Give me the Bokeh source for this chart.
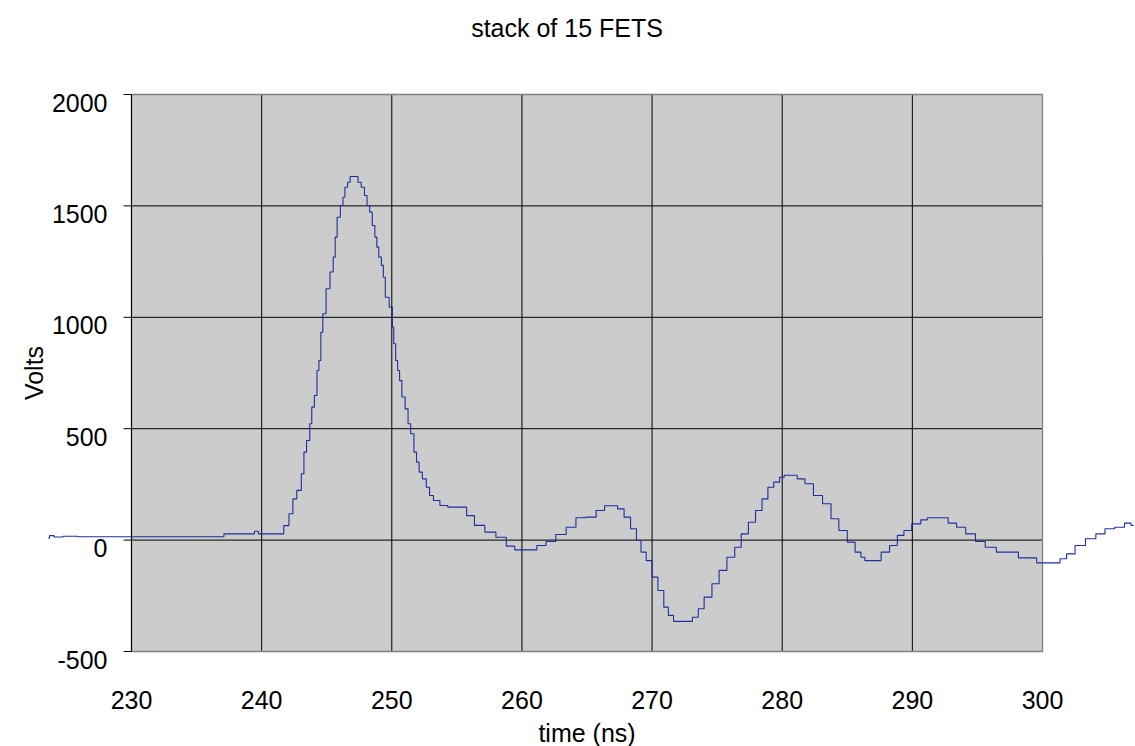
from math import pi
from bokeh.plotting import figure
from bokeh.models import Range1d
from bokeh.core.properties import value
from bokeh.embed import file_html
from bokeh.resources import INLINE

# ---- data -------------------------------------------------------------
title = "stack of 15 FETS"
x_label = "time (ns)"
y_label = "Volts"
x_ticks = [230, 240, 250, 260, 270, 280, 290, 300]
y_ticks = [-500, 0, 500, 1000, 1500, 2000]

time_ns = [223.6, 223.8, 224.3, 225.2, 226.5, 230.0, 234.0, 237.0, 237.2, 239.3,
           239.6, 239.9, 241.5, 241.9, 242.3, 242.5, 242.9, 243.2, 243.3, 243.6,
           243.8, 243.9, 244.2, 244.3, 244.5, 244.6, 244.8, 245.1, 245.4, 245.6,
           245.7, 245.9, 246.2, 246.3, 246.5, 246.7, 246.9, 247.3, 247.5, 247.8,
           248.0, 248.2, 248.4, 248.6, 248.8, 248.9, 249.1, 249.3, 249.4, 249.6,
           250.0, 250.1, 250.2, 250.4, 250.5, 250.7, 250.85, 251.2, 251.3, 251.6,
           251.8, 252.0, 252.2, 252.5, 252.8, 253.0, 253.4, 254.0, 254.6, 255.5,
           256.0, 256.7, 257.6, 258.4, 259.2, 259.7, 260.8, 261.5, 262.2, 263.0,
           263.8, 264.5, 265.3, 266.1, 266.6, 267.1, 267.6, 268.1, 268.6, 269.0,
           269.3, 269.8, 270.2, 270.7, 271.1, 271.4, 271.9, 272.8, 273.4, 273.7,
           274.3, 274.9, 275.4, 276.1, 276.6, 277.1, 277.7, 278.2, 278.7, 279.1,
           279.6, 280.0, 280.3, 280.9, 281.4, 282.1, 282.7, 283.5, 284.0, 284.7,
           285.3, 285.9, 286.2, 286.5, 287.3, 287.9, 288.6, 289.1, 289.6, 290.3,
           291.0, 291.3, 292.4, 293.1, 293.7, 294.5, 295.2, 296.0, 296.9, 298.0,
           298.3, 299.3, 299.8, 301.1, 301.6, 302.1, 302.9, 303.7, 304.5, 305.1,
           306.0, 306.6, 307.0]
volts = [8, 20, 14, 17, 15, 15, 15, 15, 28, 28,
         40, 28, 28, 65, 118, 185, 223, 298, 395, 447,
         522, 597, 649, 761, 806, 933, 1016, 1128, 1203, 1270,
         1360, 1449, 1502, 1539, 1584, 1606, 1632, 1632, 1606, 1584,
         1547, 1502, 1472, 1412, 1360, 1315, 1270, 1233, 1180, 1090,
         1045, 956, 881, 806, 761, 716, 642, 589, 522, 477,
         395, 350, 305, 275, 237, 200, 178, 155, 148, 148,
         110, 66, 36, 13, -27, -44, -44, -24, -6, 25,
         58, 100, 103, 133, 154, 154, 140, 103, 51, -2,
         -54, -92, -166, -226, -301, -338, -365, -365, -346, -308,
         -256, -196, -136, -77, -32, 28, 80, 133, 185, 237,
         260, 282, 291, 291, 275, 253, 200, 163, 96, 43,
         -9, -54, -77, -92, -92, -54, -24, 21, 43, 73,
         91, 100, 100, 76, 58, 28, -6, -32, -54, -54,
         -80, -80, -102, -102, -84, -62, -24, 6, 28, 51,
         58, 76, 66]

# ---- figure -----------------------------------------------------------
W, H = 1135, 746
x0, x1 = x_ticks[0], x_ticks[-1]
y0, y1 = y_ticks[0], y_ticks[-1]
px_x = 911.0 / (x1 - x0)       # px per ns
px_y = 557.0 / (y1 - y0)       # px per volt
left_px, top_px = 131.0, 94.0  # plot area origin inside canvas
xr = Range1d(x0 - left_px / px_x, x0 + (W - left_px) / px_x)
yr = Range1d(y1 - (H - top_px) / px_y, y1 + top_px / px_y)

p = figure(width=W, height=H, x_range=xr, y_range=yr,
           x_axis_type=None, y_axis_type=None,
           output_backend="svg", toolbar_location=None, min_border=0)
p.outline_line_color = None
p.background_fill_color = "white"
p.border_fill_color = "white"

FONT = value("Liberation Sans")
FS = value("25px")

# plot area
p.quad(left=x0, right=x1, bottom=y0, top=y1, fill_color="#CCCCCC", line_color=None)

# grid lines
inner_x = x_ticks[1:-1]
p.segment(x0=inner_x, y0=[y0] * len(inner_x), x1=inner_x, y1=[y1] * len(inner_x),
          line_color="black", line_width=1)
inner_y = y_ticks[1:-1]
p.segment(x0=[x0] * len(inner_y), y0=inner_y, x1=[x1] * len(inner_y), y1=inner_y,
          line_color="black", line_width=1)
# border (gray top/right/bottom)
p.line(x=[x0, x1, x1, x0], y=[y1, y1, y0, y0], line_color="#808080", line_width=1.3)
# y axis line and ticks
p.line(x=[x0, x0], y=[y0, y1], line_color="black", line_width=1.2)
tick_len = 8.0 / px_x
p.segment(x0=[x0 - tick_len] * len(y_ticks), y0=y_ticks, x1=[x0] * len(y_ticks), y1=y_ticks,
          line_color="black", line_width=1)

p.step(x=time_ns, y=volts, mode="center", line_color="#1F2F9F", line_width=1.1)

# tick labels
p.text(x=[x0] * len(y_ticks), y=y_ticks, text=[str(v) for v in y_ticks],
       x_offset=-24, y_offset=8, text_align="right", text_baseline="alphabetic",
       text_font=FONT, text_font_size=FS, text_color="black")
p.text(x=x_ticks, y=[y0] * len(x_ticks), text=[str(v) for v in x_ticks],
       y_offset=48, text_align="center", text_baseline="alphabetic",
       text_font=FONT, text_font_size=FS, text_color="black")

# axis titles and title
p.text(x=[(x0 + x1) / 2], y=[y0], text=[x_label], y_offset=81,
       text_align="center", text_baseline="alphabetic",
       text_font=FONT, text_font_size=FS, text_color="black")
p.text(x=[x0 - 98.0 / px_x], y=[(y0 + y1) / 2], text=[y_label], angle=pi / 2,
       text_align="center", text_baseline="alphabetic",
       text_font=FONT, text_font_size=FS, text_color="black")
p.text(x=[x0 + 435.5 / px_x], y=[y1], text=[title], y_offset=-67,
       text_align="center", text_baseline="alphabetic",
       text_font=FONT, text_font_size=FS, text_color="black")

open("out.html", "w").write(file_html(p, INLINE))
